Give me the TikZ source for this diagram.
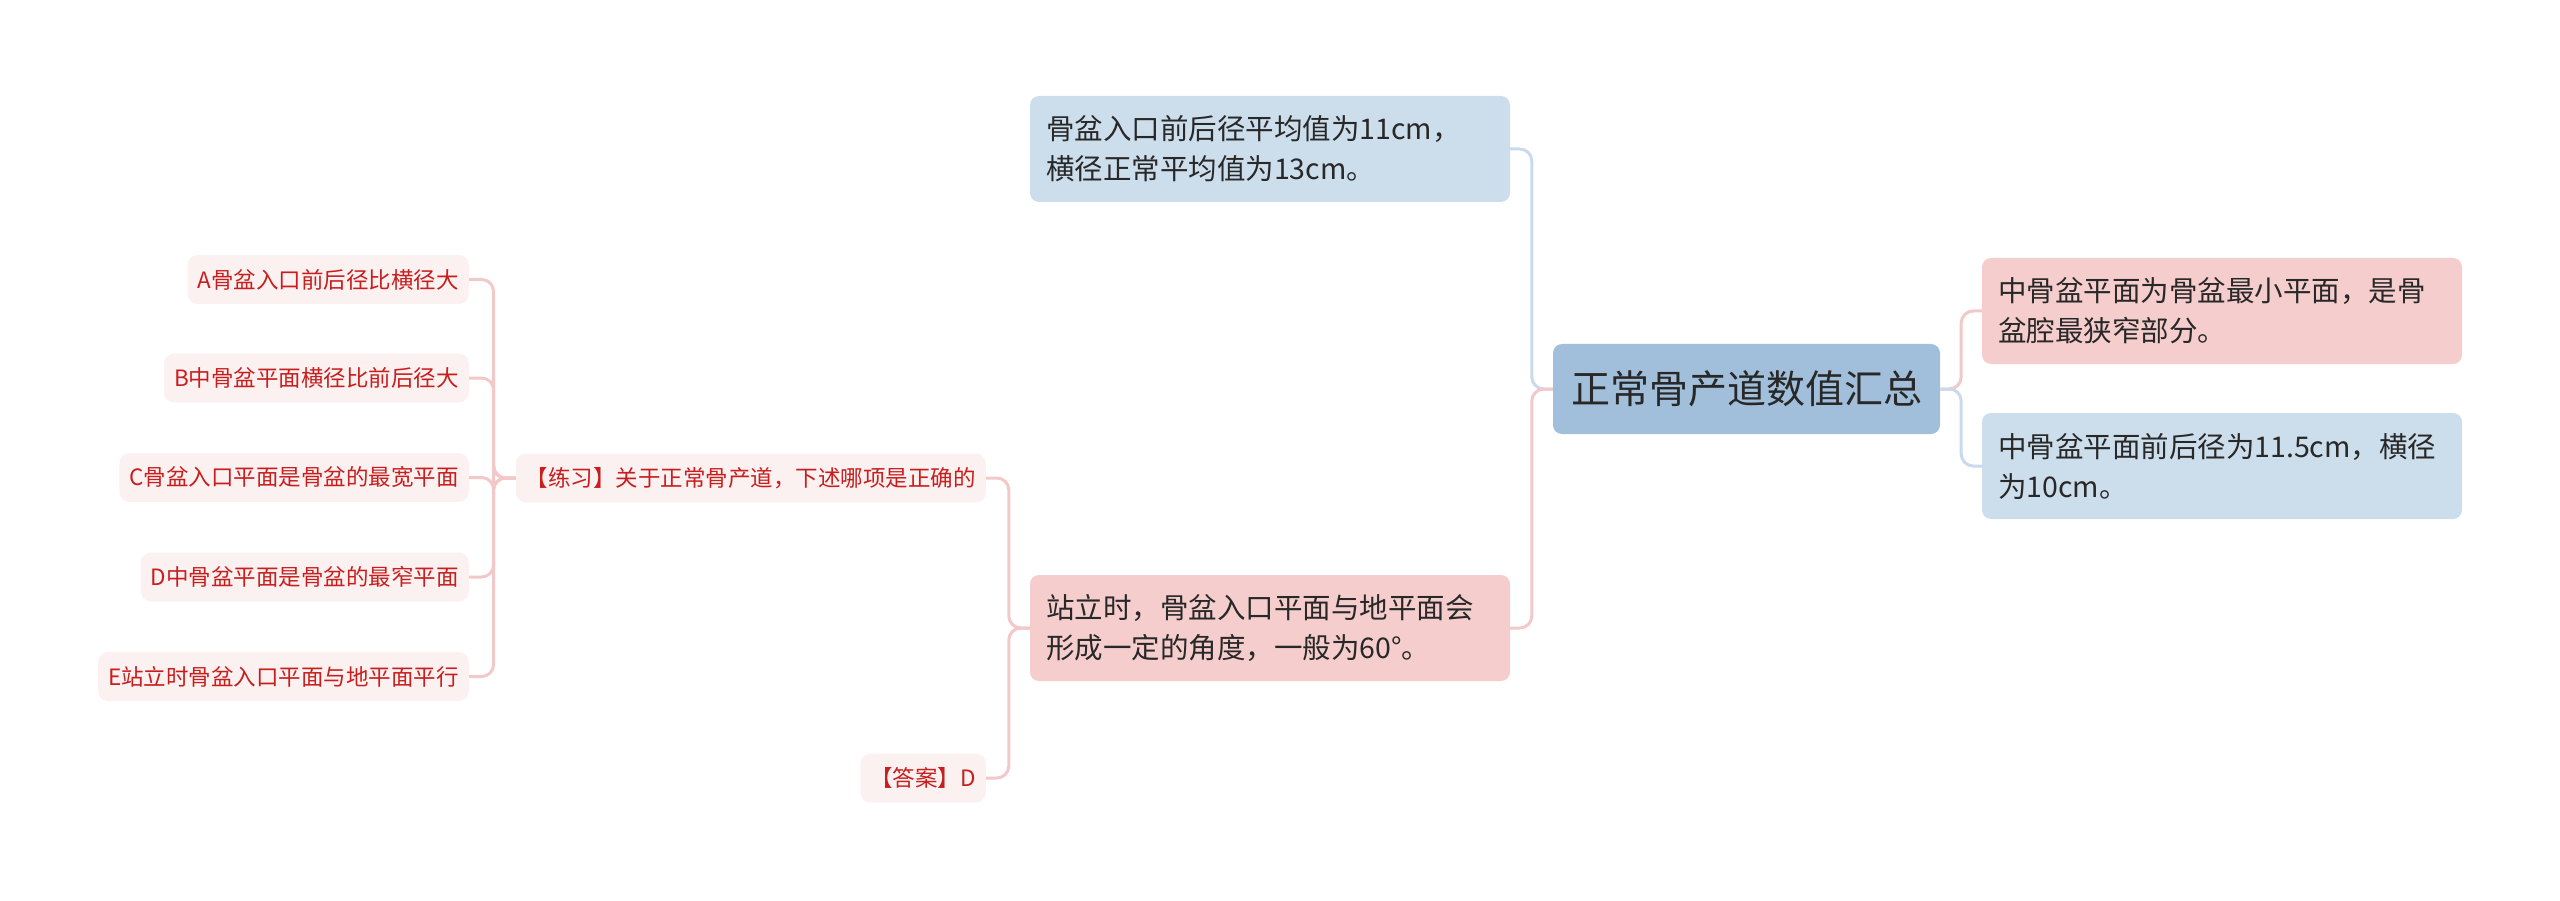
\documentclass[tikz,border=0pt]{standalone}
\usepackage{fontspec}
\setmainfont{Noto Sans CJK SC}
\definecolor{rootfill}{RGB}{161,191,218}
\definecolor{bluefill}{RGB}{204,221,236}
\definecolor{pinkfill}{RGB}{245,205,205}
\definecolor{smallfill}{RGB}{252,241,241}
\definecolor{redtxt}{RGB}{200,30,30}
\definecolor{bline}{RGB}{200,218,236}
\definecolor{pline}{RGB}{242,200,200}
\definecolor{txt}{RGB}{40,40,40}
\begin{document}
\begin{tikzpicture}[x=1pt,y=-1pt,
  bigbox/.style={rounded corners=9pt, inner xsep=16pt, inner ysep=0pt, minimum height=106pt, text width=448pt, align=left, text=txt, font=\fontsize{28.5}{40}\selectfont},
  rootbox/.style={rounded corners=9pt, fill=rootfill, minimum width=387pt, minimum height=90pt, inner sep=0pt, text=txt, font=\fontsize{39}{46}\selectfont},
  smallbox/.style={rounded corners=10pt, fill=smallfill, text=redtxt, inner xsep=10pt, inner ysep=0pt, minimum height=49pt, anchor=east, font=\fontsize{22.5}{27}\selectfont},
  bconn/.style={draw=bline, line width=3pt, rounded corners=12pt},
  pconn/.style={draw=pline, line width=3pt, rounded corners=12pt}]
\useasboundingbox (0,0) rectangle (2560,901);
% nodes
\node[rootbox] (root) at (1746.5,389) {正常骨产道数值汇总};
\node[bigbox, fill=bluefill] (t1) at (1270,149) {骨盆入口前后径平均值为11cm，\\横径正常平均值为13cm。};
\node[bigbox, fill=pinkfill] (p1) at (1270,628) {站立时，骨盆入口平面与地平面会\\形成一定的角度，一般为60°。};
\node[bigbox, fill=pinkfill] (r1) at (2222,311) {中骨盆平面为骨盆最小平面，是骨\\盆腔最狭窄部分。};
\node[bigbox, fill=bluefill] (r2) at (2222,466) {中骨盆平面前后径为11.5cm，横径\\为10cm。};
\node[smallbox] (q) at (986,478) {【练习】关于正常骨产道，下述哪项是正确的};
\node[smallbox] (ans) at (986,778) {【答案】D};
\node[smallbox] (a) at (469,279.5) {A骨盆入口前后径比横径大};
\node[smallbox] (b) at (469,378) {B中骨盆平面横径比前后径大};
\node[smallbox] (c) at (469,477.5) {C骨盆入口平面是骨盆的最宽平面};
\node[smallbox] (d) at (469,577) {D中骨盆平面是骨盆的最窄平面};
\node[smallbox] (e) at (469,676.5) {E站立时骨盆入口平面与地平面平行};
% connectors
\draw[bconn] (root.west) -- ++(-21,0) |- (t1.east);
\draw[pconn] (root.west) -- ++(-21,0) |- (p1.east);
\draw[pconn] (root.east) -- ++(21,0) |- (r1.west);
\draw[bconn] (root.east) -- ++(21,0) |- (r2.west);
\draw[pconn] (p1.west) -- ++(-21,0) |- (q.east);
\draw[pconn] (p1.west) -- ++(-21,0) |- (ans.east);
\foreach \n in {a,b,c,d,e}{
  \draw[pconn] (q.west) -- ++(-22,0) |- (\n.east);
}
\end{tikzpicture}
\end{document}
